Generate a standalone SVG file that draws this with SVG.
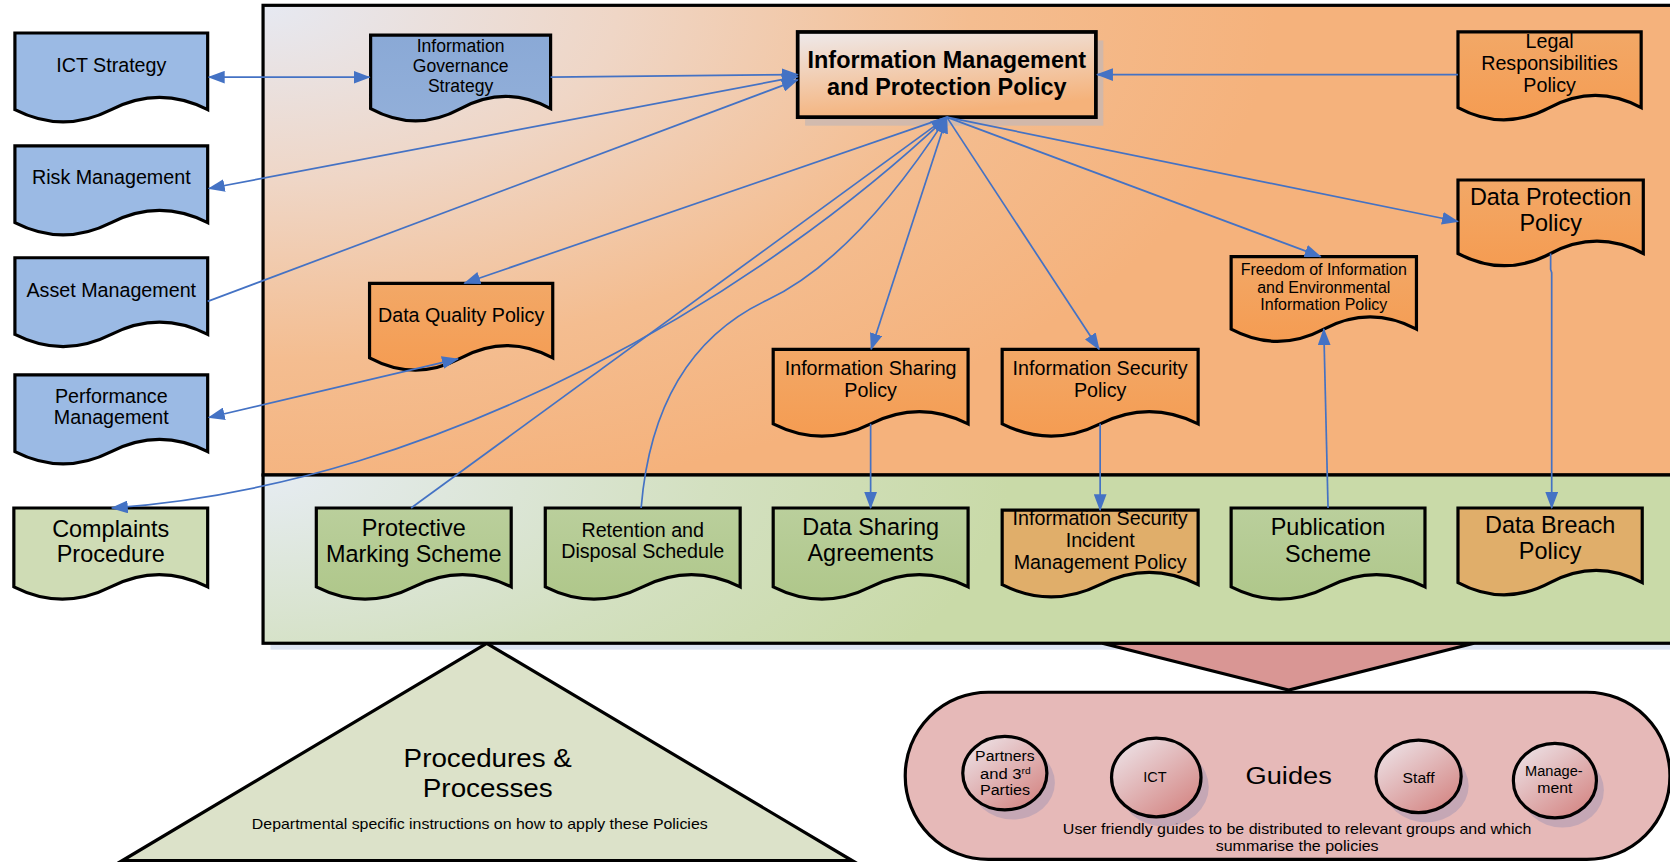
<svg xmlns="http://www.w3.org/2000/svg" width="1670" height="864" viewBox="0 0 1670 864">
<defs>
<style>
.doc{stroke:#000;stroke-width:3;stroke-linejoin:miter}
.blue{fill:#9BBAE4}
.blue2{fill:url(#gBlue2)}
.org{fill:url(#gOrg)}
.grn{fill:url(#gGrn)}
.pale{fill:#CFDCB5}
.tan{fill:#E0AE6A}
.t{font-family:"Liberation Sans",Arial,sans-serif;fill:#000;text-anchor:middle}
.conn{fill:none;stroke:#4472C4;stroke-width:1.6}
.circ{fill:url(#gCirc);stroke:#000;stroke-width:3}
.csh{fill:#B9A2B4;opacity:0.75}
</style>
<radialGradient id="gTop" gradientUnits="userSpaceOnUse" cx="247" cy="5" r="950" gradientTransform="translate(247,5) scale(1,0.5) translate(-247,-5)">
<stop offset="0" stop-color="#E6E9F2"/>
<stop offset="0.35" stop-color="#EFD6C6"/>
<stop offset="0.7" stop-color="#F4BD90"/>
<stop offset="1" stop-color="#F5B27C"/>
</radialGradient>
<radialGradient id="gBot" gradientUnits="userSpaceOnUse" cx="247" cy="446" r="700" gradientTransform="translate(247,446) scale(1,0.45) translate(-247,-446)">
<stop offset="0" stop-color="#E6ECF2"/>
<stop offset="0.6" stop-color="#D3E0C0"/>
<stop offset="1" stop-color="#C9DAA8"/>
</radialGradient>
<linearGradient id="gImpp" x1="0" y1="0" x2="0.3" y2="1">
<stop offset="0" stop-color="#EEEAEC"/>
<stop offset="1" stop-color="#F5B27A"/>
</linearGradient>
<linearGradient id="gOrg" x1="0" y1="0" x2="0" y2="1">
<stop offset="0" stop-color="#F2A867"/>
<stop offset="1" stop-color="#F59C52"/>
</linearGradient>
<linearGradient id="gGrn" x1="0" y1="0" x2="0" y2="1">
<stop offset="0" stop-color="#BACF9C"/>
<stop offset="1" stop-color="#AFC78A"/>
</linearGradient>
<linearGradient id="gBlue2" x1="0" y1="0" x2="0" y2="1">
<stop offset="0" stop-color="#8AA9D6"/>
<stop offset="1" stop-color="#92AFD9"/>
</linearGradient>
<linearGradient id="gCirc" x1="0.15" y1="0.1" x2="0.8" y2="0.9">
<stop offset="0" stop-color="#EBDCE0"/>
<stop offset="1" stop-color="#D68C8A"/>
</linearGradient>
<marker id="arr" markerUnits="userSpaceOnUse" markerWidth="16" markerHeight="12" viewBox="0 0 16 12" refX="15" refY="6" orient="auto-start-reverse">
<path d="M0,0 L16,6 L0,12 Z" fill="#4472C4"/>
</marker>
</defs>
<rect x="0" y="0" width="1670" height="864" fill="#FFFFFF"/>
<g transform="scale(1.065)">

<g id="bottom-shapes">
<rect x="254" y="603" width="1400" height="7" fill="#DCE4F2"/>
<g id="procedures">
<polygon points="457,604 115,808 800,808" fill="#DCE2C9" stroke="#000" stroke-width="3" stroke-linejoin="miter"/>
<text class="t" x="458" y="720" font-size="24" textLength="158" lengthAdjust="spacingAndGlyphs">Procedures &amp;</text>
<text class="t" x="458" y="748" font-size="24" textLength="122" lengthAdjust="spacingAndGlyphs">Processes</text>
<text class="t" x="450.5" y="778" font-size="13.5" textLength="428" lengthAdjust="spacingAndGlyphs">Departmental specific instructions on how to apply these Policies</text>
</g>
<g id="guides">
<polygon points="1035,604 1384,604 1210,648" fill="#D99694" stroke="#000" stroke-width="3" stroke-linejoin="miter"/>
<rect x="850" y="650" width="718" height="157" rx="78" ry="78" fill="#E6B9B8" stroke="#000" stroke-width="3"/>
<text class="t" x="1210" y="736" font-size="23" textLength="81" lengthAdjust="spacingAndGlyphs">Guides</text>
<text class="t" x="1218" y="783" font-size="13.5" textLength="440" lengthAdjust="spacingAndGlyphs">User friendly guides to be distributed to relevant groups and which</text>
<text class="t" x="1218" y="799.5" font-size="13.5" textLength="153" lengthAdjust="spacingAndGlyphs">summarise the policies</text>
</g>
<g id="g-partners">
<ellipse class="csh" cx="951" cy="735" rx="39.5" ry="34.5"/>
<ellipse class="circ" cx="943.5" cy="726" rx="39.5" ry="34.5"/>
<text class="t" x="943.6" y="714.6" font-size="13" textLength="56" lengthAdjust="spacingAndGlyphs">Partners</text>
<text class="t" x="944" y="731.7" font-size="13" transform="matrix(1.2,0,0,1,-188.8,0)">and 3<tspan font-size="8" dy="-5">rd</tspan></text>
<text class="t" x="943.6" y="746.5" font-size="13" textLength="47" lengthAdjust="spacingAndGlyphs">Parties</text>
</g>
<g id="g-ict">
<ellipse class="csh" cx="1093" cy="739" rx="42" ry="37"/>
<ellipse class="circ" cx="1085.7" cy="730" rx="42" ry="37"/>
<text class="t" x="1084.5" y="734" font-size="13" textLength="22" lengthAdjust="spacingAndGlyphs">ICT</text>
</g>
<g id="g-staff">
<ellipse class="csh" cx="1339" cy="738" rx="40" ry="34"/>
<ellipse class="circ" cx="1332" cy="729" rx="40" ry="34"/>
<text class="t" x="1332" y="735.5" font-size="13" textLength="30" lengthAdjust="spacingAndGlyphs">Staff</text>
</g>
<g id="g-management">
<ellipse class="csh" cx="1467" cy="742" rx="39" ry="35"/>
<ellipse class="circ" cx="1460" cy="733" rx="39" ry="35"/>
<text class="t" x="1459" y="728.6" font-size="13" textLength="54" lengthAdjust="spacingAndGlyphs">Manage-</text>
<text class="t" x="1460" y="745" font-size="13" textLength="33" lengthAdjust="spacingAndGlyphs">ment</text>
</g>
</g>

<g id="frame">
<rect x="247" y="5" width="1400" height="441" fill="url(#gTop)" stroke="#000" stroke-width="3"/>
<rect x="247" y="446" width="1400" height="158" fill="url(#gBot)" stroke="#000" stroke-width="3"/>
</g>

<g id="left-nodes">
<g id="n-ict"><path class="doc blue" d="M14,31 H195 V103 Q149.75,80 104.5,103 T14,103 Z"/>
<text class="t" x="104.5" y="68" font-size="18.5">ICT Strategy</text></g>
<g id="n-risk"><path class="doc blue" d="M14,137 H195 V209 Q149.75,186 104.5,209 T14,209 Z"/>
<text class="t" x="104.5" y="173" font-size="18.5">Risk Management</text></g>
<g id="n-asset"><path class="doc blue" d="M14,242 H195 V314 Q149.75,291 104.5,314 T14,314 Z"/>
<text class="t" x="104.5" y="279" font-size="18.5">Asset Management</text></g>
<g id="n-perf"><path class="doc blue" d="M14,352 H195 V424 Q149.75,401 104.5,424 T14,424 Z"/>
<text class="t" x="104.5" y="378" font-size="18.5">Performance</text>
<text class="t" x="104.5" y="398" font-size="18.5">Management</text></g>
<g id="n-complaints"><path class="doc pale" d="M13,477 H195 V551 Q149.5,528 104,551 T13,551 Z"/>
<text class="t" x="104" y="504" font-size="22">Complaints</text>
<text class="t" x="104" y="528" font-size="22">Procedure</text></g>
</g>

<g id="policy-nodes">
<g id="n-igs"><path class="doc blue2" d="M348,33 H517 V102 Q474.75,79 432.5,102 T348,102 Z"/>
<text class="t" x="432.5" y="49" font-size="16.5">Information</text>
<text class="t" x="432.5" y="68" font-size="16.5">Governance</text>
<text class="t" x="432.5" y="86" font-size="16.5">Strategy</text></g>
<g id="n-impp">
<rect x="756" y="38" width="280" height="80" fill="#C9B8B2" opacity="0.8"/>
<rect x="749" y="30" width="280" height="80" fill="url(#gImpp)" stroke="#000" stroke-width="3.5"/>
<text class="t" x="889" y="64" font-size="22" font-weight="bold">Information Management</text>
<text class="t" x="889" y="89" font-size="22" font-weight="bold">and Protection Policy</text></g>
<g id="n-legal"><path class="doc org" d="M1369,30 H1541 V101 Q1498,78 1455,101 T1369,101 Z"/>
<text class="t" x="1455" y="45" font-size="18.5">Legal</text>
<text class="t" x="1455" y="66" font-size="18.5">Responsibilities</text>
<text class="t" x="1455" y="86" font-size="18.5">Policy</text></g>
<g id="n-dp"><path class="doc org" d="M1369,169 H1543 V238 Q1499.5,215 1456,238 T1369,238 Z"/>
<text class="t" x="1456" y="192.5" font-size="22">Data Protection</text>
<text class="t" x="1456" y="217" font-size="22">Policy</text></g>
<g id="n-foi"><path class="doc org" d="M1156,241 H1330 V309 Q1286.5,286 1243,309 T1156,309 Z"/>
<text class="t" x="1243" y="258" font-size="15">Freedom of Information</text>
<text class="t" x="1243" y="275" font-size="15">and Environmental</text>
<text class="t" x="1243" y="291" font-size="15">Information Policy</text></g>
<g id="n-dq"><path class="doc org" d="M347,266 H519 V336 Q476,313 433,336 T347,336 Z"/>
<text class="t" x="433" y="302" font-size="18.5">Data Quality Policy</text></g>
<g id="n-isp"><path class="doc org" d="M726,328 H909 V398 Q863.25,375 817.5,398 T726,398 Z"/>
<text class="t" x="817.5" y="352" font-size="18.5">Information Sharing</text>
<text class="t" x="817.5" y="372.5" font-size="18.5">Policy</text></g>
<g id="n-isecp"><path class="doc org" d="M941,328 H1125 V398 Q1079,375 1033,398 T941,398 Z"/>
<text class="t" x="1033" y="352" font-size="18.5">Information Security</text>
<text class="t" x="1033" y="372.5" font-size="18.5">Policy</text></g>
</g>

<g id="procedure-nodes">
<g id="n-pms"><path class="doc grn" d="M297,477 H480 V551 Q434.25,528 388.5,551 T297,551 Z"/>
<text class="t" x="388.5" y="503" font-size="22">Protective</text>
<text class="t" x="388.5" y="527.5" font-size="22">Marking Scheme</text></g>
<g id="n-rds"><path class="doc grn" d="M512,477 H695 V551 Q649.25,528 603.5,551 T512,551 Z"/>
<text class="t" x="603.5" y="504" font-size="18.5">Retention and</text>
<text class="t" x="603.5" y="523.5" font-size="18.5">Disposal Schedule</text></g>
<g id="n-dsa"><path class="doc grn" d="M726,477 H909 V551 Q863.25,528 817.5,551 T726,551 Z"/>
<text class="t" x="817.5" y="502" font-size="22">Data Sharing</text>
<text class="t" x="817.5" y="526.5" font-size="22">Agreements</text></g>
<g id="n-isimp"><path class="doc tan" d="M941,479 H1125 V549 Q1079,526 1033,549 T941,549 Z"/>
<text class="t" x="1033" y="493" font-size="18.5">Information Security</text>
<text class="t" x="1033" y="513.5" font-size="18.5">Incident</text>
<text class="t" x="1033" y="534.5" font-size="18.5">Management Policy</text></g>
<g id="n-pub"><path class="doc grn" d="M1156,477 H1338 V551 Q1292.5,528 1247,551 T1156,551 Z"/>
<text class="t" x="1247" y="502" font-size="22">Publication</text>
<text class="t" x="1247" y="527.5" font-size="22">Scheme</text></g>
<g id="n-dbp"><path class="doc tan" d="M1369,477 H1542 V547 Q1498.75,524 1455.5,547 T1369,547 Z"/>
<text class="t" x="1455.5" y="500.5" font-size="22">Data Breach</text>
<text class="t" x="1455.5" y="525" font-size="22">Policy</text></g>
</g>

<g id="connectors">
<path class="conn" d="M196,72.5 H347" marker-start="url(#arr)" marker-end="url(#arr)"/>
<path class="conn" d="M517,72.5 L749,70" marker-end="url(#arr)"/>
<path class="conn" d="M196,177 L749,72" marker-start="url(#arr)" marker-end="url(#arr)"/>
<path class="conn" d="M195,283 L749,75" marker-end="url(#arr)"/>
<path class="conn" d="M196,392 L430,337" marker-start="url(#arr)" marker-end="url(#arr)"/>
<path class="conn" d="M889,110 L436,266" marker-end="url(#arr)"/>
<path class="conn" d="M889,110 C720,270 420,455 105,477" marker-end="url(#arr)"/>
<path class="conn" d="M386,477 L889,110" marker-end="url(#arr)"/>
<path class="conn" d="M602,477 C610,380 650,315 720,282 S850,170 889,110" marker-end="url(#arr)"/>
<path class="conn" d="M889,110 L818,328" marker-start="url(#arr)" marker-end="url(#arr)"/>
<path class="conn" d="M889,110 L1032,328" marker-end="url(#arr)"/>
<path class="conn" d="M889,110 L1240,241" marker-end="url(#arr)"/>
<path class="conn" d="M889,110 L1369,208" marker-end="url(#arr)"/>
<path class="conn" d="M1369,70 L1030,70" marker-end="url(#arr)"/>
<path class="conn" d="M817.5,398 V477" marker-end="url(#arr)"/>
<path class="conn" d="M1033,398 V479" marker-end="url(#arr)"/>
<path class="conn" d="M1247,477 L1243,309" marker-end="url(#arr)"/>
<path class="conn" d="M1456,238 V253 L1457,256 V477" marker-end="url(#arr)"/>
</g>
</g>
</svg>
